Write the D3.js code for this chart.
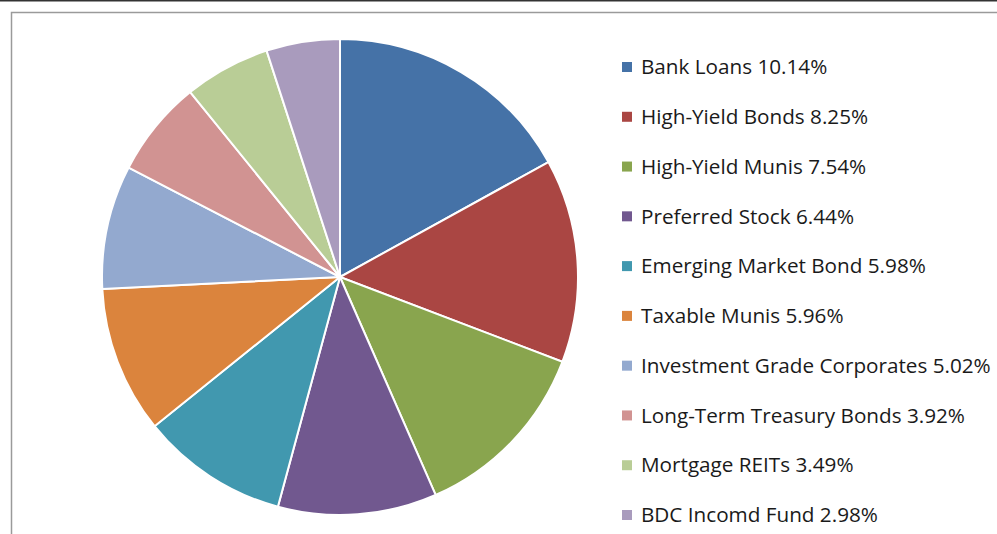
<!DOCTYPE html>
<html>
<head>
<meta charset="utf-8">
<script src="https://cdn.jsdelivr.net/npm/d3@7"></script>
<style>
  body { margin: 0; background: #fff; }
  svg { display: block; }
</style>
</head>
<body>
<script>
const categories = ["Bank Loans", "High-Yield Bonds", "High-Yield Munis", "Preferred Stock",
  "Emerging Market Bond", "Taxable Munis", "Investment Grade Corporates",
  "Long-Term Treasury Bonds", "Mortgage REITs", "BDC Incomd Fund"];
const values = [10.14, 8.25, 7.54, 6.44, 5.98, 5.96, 5.02, 3.92, 3.49, 2.98];
const colors = ["#4572A7", "#AA4643", "#89A54E", "#71588F", "#4198AF",
  "#DB843D", "#93A9CF", "#D19392", "#B9CD96", "#A99BBD"];

const width = 997, height = 534;
const cx = 340, cy = 277, radius = 238;

const svg = d3.select("body")
  .append("svg")
  .attr("width", width)
  .attr("height", height);

// top dark rule
svg.append("line")
  .attr("x1", 0).attr("x2", width)
  .attr("y1", 0.5).attr("y2", 0.5)
  .attr("stroke", "#333")
  .attr("stroke-width", 2);

// chart frame
svg.append("path")
  .attr("d", `M${width + 2},12.5 H11.5 V${height + 2}`)
  .attr("fill", "none")
  .attr("stroke", "#9a9a9a")
  .attr("stroke-width", 1.5);

const pie = d3.pie().sort(null)(values);
const arc = d3.arc().innerRadius(0).outerRadius(radius);

svg.append("g")
  .attr("transform", `translate(${cx},${cy})`)
  .selectAll("path")
  .data(pie)
  .enter()
  .append("path")
  .attr("d", arc)
  .attr("fill", (d, i) => colors[i])
  .attr("stroke", "#fff")
  .attr("stroke-width", 2);

const legendY = d3.scalePoint()
  .domain(categories)
  .range([67, 515]);

const legend = svg.append("g")
  .selectAll("g")
  .data(categories)
  .enter()
  .append("g")
  .attr("transform", d => `translate(622,${legendY(d)})`);

legend.append("rect")
  .attr("x", 0)
  .attr("y", -5)
  .attr("width", 10)
  .attr("height", 10)
  .attr("fill", (d, i) => colors[i]);

legend.append("text")
  .attr("x", 19)
  .attr("y", 0)
  .attr("dy", "0.35em")
  .style("font-family", "'Open Sans', sans-serif")
  .style("font-size", "20.7px")
  .style("fill", "#1a1a1a")
  .text((d, i) => `${d} ${values[i].toFixed(2)}%`);
</script>
</body>
</html>
